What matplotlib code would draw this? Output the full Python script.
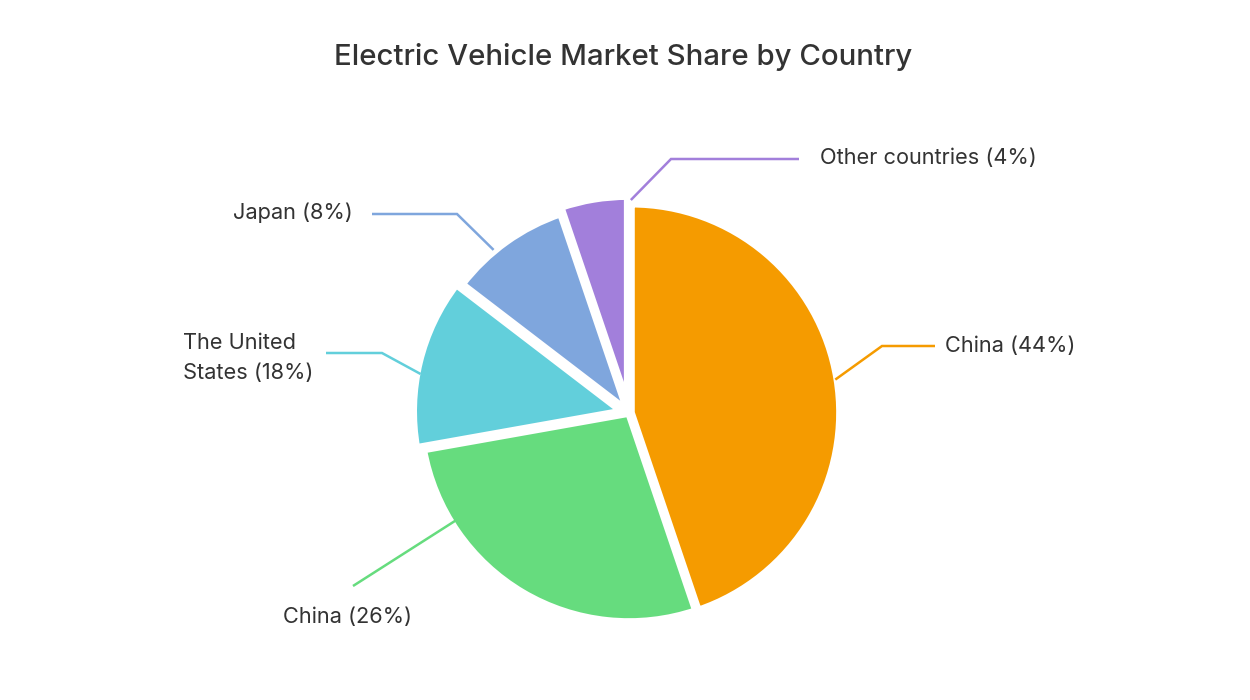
import numpy as np
import matplotlib
matplotlib.use("Agg")
import matplotlib.pyplot as plt

# ---- data ----
labels = ["China (44%)", "China (26%)", "The United\nStates (18%)", "Japan (8%)", "Other countries (4%)"]
shares = [44.8, 27.4, 13.2, 9.4, 5.2]   # slice sizes as drawn in the reference
colors = ["#F59B00", "#66DC7E", "#62CFDB", "#7FA6DD", "#A27FDB"]

title = "Electric Vehicle Market Share by Country"

# ---- layout (pixel space, y measured from top) ----
W, H = 1250, 700
cx, cy = 629, 413
radius = 209
explode = [2, 0, 7, 2, 8]
anchor_angle = [9.2, 211.8, 169.4, 129.7, 89.5]   # where each leader starts on the rim
anchor_r = [209, 202, 212, 212, 213]
elbows = [(882, 346), None, (382, 353), (457, 214), (671, 159)]
ends = [(935, 346), (353, 586), (326, 353), (372, 214), (799, 159)]
text_pos = [(945, 346, "left"), (283, 617, "left"), (183, 358, "block"), (353, 213, "right"), (820, 158, "left")]

FONT = ['Inter', 'DejaVu Sans']
plt.rcParams['font.family'] = FONT
fig = plt.figure(figsize=(W / 100, H / 100), dpi=100)
ax = fig.add_axes([0, 0, 1, 1])

def Y(y):
    return H - y

def fit_size(s, target_px, base=15.0):
    t = fig.text(0, 0, s, fontsize=base)
    w = t.get_window_extent(renderer=fig.canvas.get_renderer()).width
    t.remove()
    return base * target_px / w

FS = fit_size("China (44%)", 131)
FT = fit_size(title, 570, 19)

ax.pie(shares, colors=colors, startangle=90, counterclock=False,
       radius=radius, center=(cx, Y(cy)), explode=explode,
       wedgeprops=dict(edgecolor="white", linewidth=5.5), frame=True)
ax.set_xlim(0, W)
ax.set_ylim(0, H)
ax.set_aspect("equal")
ax.axis("off")

for i, lab in enumerate(labels):
    a = np.deg2rad(anchor_angle[i])
    sx = cx + anchor_r[i] * np.cos(a)
    sy = cy - anchor_r[i] * np.sin(a)
    pts = [(sx, sy)]
    if elbows[i] is not None:
        pts.append(elbows[i])
    pts.append(ends[i])
    xs = [p[0] for p in pts]
    ys = [Y(p[1]) for p in pts]
    ax.plot(xs, ys, color=colors[i], lw=1.8, solid_capstyle="butt", solid_joinstyle="miter")
    tx, ty, mode = text_pos[i]
    if mode == "right":
        ax.text(tx, Y(ty), lab, ha="right", va="center", fontsize=FS, color="#333333")
    elif mode == "block":
        ax.text(tx, Y(ty), lab, ha="left", va="center", fontsize=FS, color="#333333",
                multialignment="left", linespacing=1.6)
    else:
        ax.text(tx, Y(ty), lab, ha="left", va="center", fontsize=FS, color="#333333")

ax.text(623, Y(57), title, ha="center", va="center", fontsize=FT, color="#333333", fontweight="medium")

fig.savefig("out.png", dpi=100, facecolor="white")
